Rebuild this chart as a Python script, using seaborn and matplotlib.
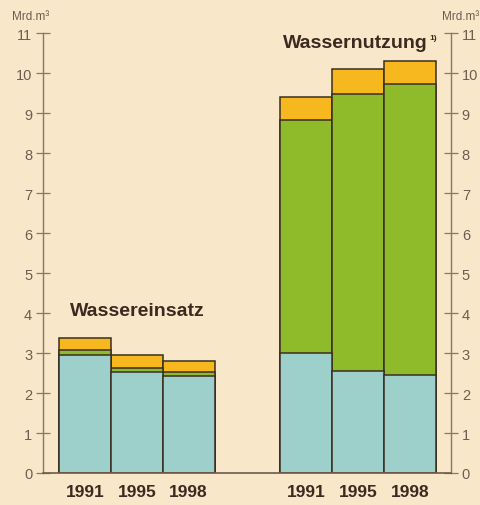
import numpy as np
import pandas as pd
import matplotlib
matplotlib.use("Agg")
import matplotlib.pyplot as plt
import seaborn as sns

# ---- data (Mrd. m³) ----
years = ["1991", "1995", "1998"]
einsatz_blue = [2.95, 2.52, 2.42]
einsatz_green = [0.13, 0.10, 0.10]
einsatz_yellow = [0.30, 0.34, 0.28]
nutzung_blue = [2.99, 2.56, 2.45]
nutzung_green = [5.83, 6.91, 7.27]
nutzung_yellow = [0.57, 0.62, 0.57]
y_ticks = list(range(0, 12))

# ---- styles ----
bg = "#F8E7C8"
c_blue = "#9DCFCB"
c_green = "#8FBB2B"
c_yellow = "#F6B81E"
edge = "#3A2E22"
axc = "#8C7666"
labc = "#6E5E52"
darkc = "#3A2A20"

sns.set_theme(style="white", rc={"axes.facecolor": bg, "figure.facecolor": bg})
plt.rcParams['font.family'] = ['Liberation Sans', 'DejaVu Sans']

positions = [0, 1, 2, 4.27, 5.27, 6.27]
blue = np.array(einsatz_blue + nutzung_blue)
green = np.array(einsatz_green + nutzung_green)
yellow = np.array(einsatz_yellow + nutzung_yellow)
df = pd.DataFrame({
    "x": positions,
    "t1": blue,
    "t2": blue + green,
    "t3": blue + green + yellow,
})

fig = plt.figure(figsize=(4.81, 5.06), dpi=100)
fig.patch.set_facecolor(bg)
ax = fig.add_axes([43 / 481, 1 - 474 / 506, (451 - 43) / 481, (474 - 34) / 506])
ax.set_facecolor(bg)

for col, colr in [("t3", c_yellow), ("t2", c_green), ("t1", c_blue)]:
    sns.barplot(data=df, x="x", y=col, native_scale=True, width=1.0,
                color=colr, saturation=1, edgecolor=edge, linewidth=1.1,
                errorbar=None, ax=ax)

ax.set_xlim(-0.81, 7.06)
ax.set_ylim(0, 11)
ax.set_xlabel("")
ax.set_ylabel("")

ax.set_xticks(positions)
ax.set_xticklabels(years + years, fontsize=12.5, fontweight="bold", color=darkc)
ax.tick_params(axis="x", length=0, pad=8)

ax.set_yticks(y_ticks)
ax.set_yticklabels([str(v) for v in y_ticks])
ax.tick_params(axis="y", direction="inout", length=9.5, width=0.9, color=axc,
               labelcolor=labc, labelsize=10.5, left=True, right=True,
               labelleft=True, labelright=True, pad=3)

for s in ["left", "right"]:
    ax.spines[s].set_color(axc)
    ax.spines[s].set_linewidth(1.0)
ax.spines["bottom"].set_color("#6E5A4C")
ax.spines["bottom"].set_linewidth(1.2)
ax.spines["top"].set_visible(False)

ax.text(-0.29, 4.07, "Wassereinsatz", fontsize=14, fontweight="bold",
        color=darkc, ha="left", va="center")
ax.text(3.81, 10.77, "Wassernutzung", fontsize=14, fontweight="bold",
        color=darkc, ha="left", va="center")
ax.text(6.64, 10.9, "1)", fontsize=6, fontweight="bold",
        color=darkc, ha="left", va="center")

fig.text(12 / 481, 1 - 17 / 506, "Mrd.m³", fontsize=8.5, color=labc,
         ha="left", va="center")
fig.text(479 / 481, 1 - 17 / 506, "Mrd.m³", fontsize=8.5, color=labc,
         ha="right", va="center")

fig.savefig("out.png", dpi=100, facecolor=bg)
